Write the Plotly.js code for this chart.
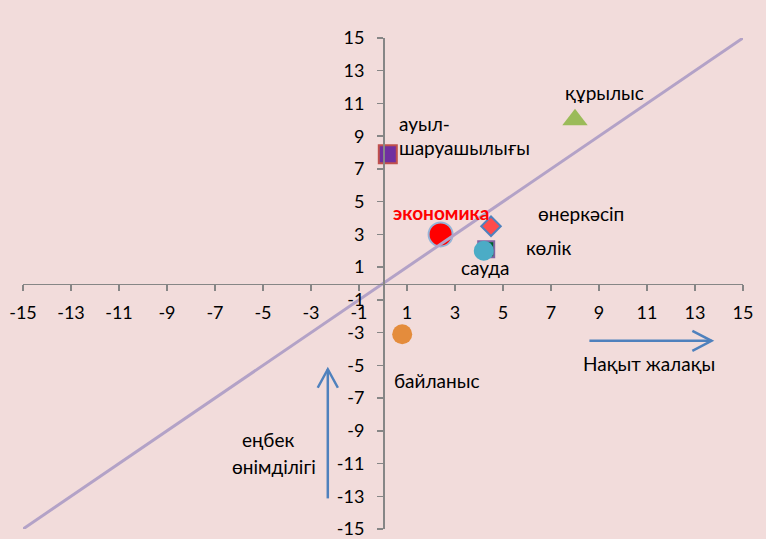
<!DOCTYPE html>
<html>
<head>
<meta charset="utf-8">
<script src="https://cdn.plot.ly/plotly-3.0.1.min.js"></script>
<style>html,body{margin:0;padding:0;background:#F2DCDB;}#chart{width:766px;height:539px;}</style>
</head>
<body>
<div id="chart"></div>
<script>
// Sectors (Kazakh): real wage growth (x) vs labour productivity growth (y)
var sectors = ["ауыл-шаруашылығы", "құрылыс", "көлік", "сауда", "экономика", "өнеркәсіп", "байланыс"];
var wageX = [0.2, 8.0, 4.3, 4.2, 2.4, 4.5, 0.8];
var productivityY = [7.9, 10.0, 2.1, 2.0, 3.0, 3.5, -3.1];
var diagX = [-15, 15];
var diagY = [-15, 15];
var tickVals = [-15, -13, -11, -9, -7, -5, -3, -1, 1, 3, 5, 7, 9, 11, 13, 15];

var styles = {
  "ауыл-шаруашылығы": {symbol: "square", size: 18, color: "#7030A0", line: "#C0504D", lw: 2},
  "құрылыс": {symbol: "triangle-up", size: 22, color: "#9BBB59", line: "#9BBB59", lw: 0},
  "көлік": {symbol: "square", size: 16, color: "#00602B", line: "#8064A2", lw: 2},
  "сауда": {symbol: "circle", size: 20, color: "#4BACC6", line: "#4BACC6", lw: 0},
  "экономика": {symbol: "circle", size: 24, color: "#FF0000", line: "#95B3D7", lw: 2},
  "өнеркәсіп": {symbol: "diamond", size: 15, color: "#FF4B4B", line: "#4F81BD", lw: 2},
  "байланыс": {symbol: "circle", size: 20, color: "#E48C3C", line: "#E48C3C", lw: 0}
};

var traces = sectors.map(function (s, i) {
  var st = styles[s];
  return {
    type: "scatter", mode: "markers", name: s,
    x: [wageX[i]], y: [productivityY[i]],
    marker: {symbol: st.symbol, size: st.size, color: st.color, line: {color: st.line, width: st.lw}},
    hoverinfo: "skip"
  };
});
traces.push({
  type: "scatter", mode: "lines", x: diagX, y: diagY,
  line: {color: "#B3A2C7", width: 3}, hoverinfo: "skip"
});

var FONT = "Lato, Carlito, 'Noto Sans', sans-serif";
function ann(text, x, y, opts) {
  var a = {text: text, x: x, y: y, xref: "x", yref: "y", showarrow: false,
    xanchor: "center", yanchor: "middle", font: {family: FONT, size: 19, color: "#000000"}};
  for (var k in opts) a[k] = opts[k];
  return a;
}
var annotations = [
  ann("ауыл-", 0.6, 9.76, {xanchor: "left"}),
  ann("шаруашылығы", 0.6, 8.29, {xanchor: "left"}),
  ann("құрылыс", 9.23, 11.7),
  ann("<b>экономика</b>", 2.44, 4.32, {font: {family: FONT, size: 19, color: "#FF0000"}}),
  ann("өнеркәсіп", 8.23, 4.3),
  ann("көлік", 6.92, 2.18),
  ann("сауда", 4.27, 0.97),
  ann("байланыс", 2.23, -5.9),
  ann("Нақыт жалақы", 11.08, -4.87),
  ann("еңбек", -4.8, -9.55),
  ann("өнімділігі", -4.55, -11.2)
];

var blue = "#4F81BD";
var shapes = [
  {type: "line", xref: "x", yref: "y", x0: 8.6, y0: -3.5, x1: 13.69, y1: -3.5, line: {color: blue, width: 2.5}},
  {type: "path", xref: "x", yref: "y", path: "M 12.89 -2.89 L 13.69 -3.5 L 12.89 -4.11", line: {color: blue, width: 2.5}},
  {type: "line", xref: "x", yref: "y", x0: -2.3, y0: -13.13, x1: -2.3, y1: -5.24, line: {color: blue, width: 2.5}},
  {type: "path", xref: "x", yref: "y", path: "M -2.72 -6.37 L -2.3 -5.24 L -1.88 -6.37", line: {color: blue, width: 2.5}}
];

var axisCommon = {
  range: [-15, 15], autorange: false, tickmode: "array", tickvals: tickVals,
  ticktext: tickVals.map(String),
  showgrid: false, zeroline: false, showline: true, linecolor: "#868686", linewidth: 1.5,
  ticks: "outside", ticklen: 6, tickwidth: 1.5, tickcolor: "#868686",
  tickfont: {family: FONT, size: 18, color: "#000000"},
  ticklabeloverflow: "allow",
  anchor: "free", position: 0.5, fixedrange: true
};
var xaxis = Object.assign({}, axisCommon, {ticklabelstandoff: 6});
var yaxis = Object.assign({}, axisCommon, {ticklabelstandoff: 9});

var layout = {
  width: 766, height: 539,
  margin: {l: 23, r: 23, t: 38, b: 10, pad: 0},
  paper_bgcolor: "#F2DCDB", plot_bgcolor: "#F2DCDB",
  showlegend: false,
  xaxis: xaxis, yaxis: yaxis,
  annotations: annotations, shapes: shapes
};

Plotly.newPlot("chart", traces, layout, {displayModeBar: false, staticPlot: true});
</script>
</body>
</html>
